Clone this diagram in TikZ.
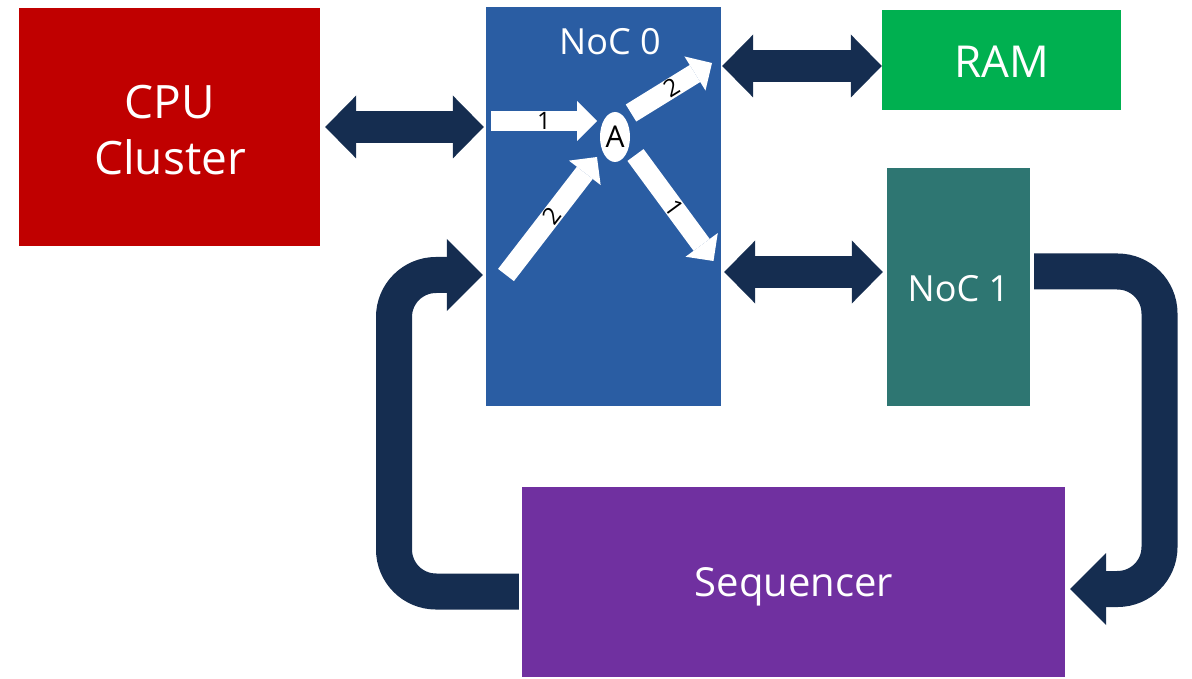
\documentclass[tikz,border=0pt]{standalone}
\usepackage{fontspec}
\setmainfont{Open Sans}
\usetikzlibrary{arrows.meta,calc,shapes.geometric}

\definecolor{cpured}{HTML}{C00000}
\definecolor{nocblue}{HTML}{2A5DA3}
\definecolor{ramgreen}{HTML}{00B050}
\definecolor{nocteal}{HTML}{2E7672}
\definecolor{seqpurple}{HTML}{7030A0}
\definecolor{navy}{HTML}{152D50}

\tikzset{
  unit/.style={draw=none, inner sep=0pt, text=white, align=center},
  caption/.style={text=white, align=center, inner sep=0pt},
  dblarrow/.style={draw=navy, line width=32pt,
    {Triangle[length=31pt 0 0, width=63pt 0 0, line width=0pt 0 0]}-{Triangle[length=31pt 0 0, width=63pt 0 0, line width=0pt 0 0]}},
  looparrow/.style={draw=navy, line width=36pt, rounded corners=42pt,
    -{Triangle[length=36pt 0 0, width=72pt 0 0, line width=0pt 0 0]}},
  flow/.style={draw=white, line width=20pt,
    -{Triangle[length=20pt 0 0, width=40pt 0 0, line width=0pt 0 0]}},
  flowlabel/.style={midway, sloped, inner sep=0pt, text=black, font=\fontsize{24}{24}\selectfont},
}

\begin{document}
\begin{tikzpicture}[x=1pt, y=-1pt]
  \useasboundingbox (0,0) rectangle (1192,679);

  % functional units
  \node[unit, fill=cpured, minimum width=301pt, minimum height=238pt] (cpu) at (169.5,127) {};
  \node[caption, font=\fontsize{46}{56}\selectfont] (cputext) at (170,130) {CPU\\Cluster};
  \node[unit, fill=nocblue, minimum width=235pt, minimum height=399pt] (noc0) at (603.5,206.5) {};
  \node[caption, font=\fontsize{36}{36}\selectfont] (noc0title) at (610,42) {NoC 0};
  \node[unit, fill=ramgreen, minimum width=239pt, minimum height=100pt] (ram) at (1001.5,60) {};
  \node[caption, font=\fontsize{44}{44}\selectfont] (ramtext) at (1001.5,62) {RAM};
  \node[unit, fill=nocteal, minimum width=143pt, minimum height=238pt] (noc1) at (958.5,287) {};
  \node[caption, font=\fontsize{36}{36}\selectfont] (noc1text) at (958.5,289) {NoC 1};
  \node[unit, fill=seqpurple, minimum width=543pt, minimum height=190pt] (seq) at (793.5,582) {};
  \node[caption, font=\fontsize{40}{40}\selectfont] (seqtext) at (794,587) {Sequencer};

  % arbiter inside NoC 0
  \node[ellipse, fill=white, minimum width=30pt, minimum height=50pt, inner sep=0pt,
        font=\fontsize{30}{30}\selectfont] (arb) at (615,137) {A};

  % ports of the internal flows
  \coordinate (in1s) at (491,121);  \coordinate (in1e) at (597,121);
  \coordinate (in2s) at (506,275);  \coordinate (in2e) at (597,157);
  \coordinate (out2s) at (631,113); \coordinate (out2e) at (712,63);
  \coordinate (out1s) at (635.5,155); \coordinate (out1e) at (713.5,261);

  \draw[flow] (in1s) -- (in1e) node[flowlabel] {1};
  \draw[flow] (in2s) -- (in2e) node[flowlabel] {2};
  \draw[flow] (out2s) -- (out2e) node[flowlabel] {2};
  \draw[flow] (out1s) -- (out1e) node[flowlabel] {1};

  % bidirectional links
  \draw[dblarrow] ($(cpu.east)+(5,0)$) -- ($(cpu.east -| noc0.west)+(-2,0)$);
  \draw[dblarrow] ($(noc0.east |- ram.west)+(1,6)$) -- ($(ram.west)+(0,6)$);
  \draw[dblarrow] ($(noc1.west)+(-4,-15)$) -- ($(noc0.east |- noc1.west)+(3,-15)$);

  % feedback loops
  \draw[looparrow] ($(noc1.east)+(4,-15.5)$) -- (1159.5,271.5) -- (1159.5,589) -- ($(seq.east)+(5,7)$);
  \draw[looparrow] ($(seq.west)+(-3,9.5)$) -- (394,591.5) -- (394,275) -- ($(noc0.west |- 0,275)+(-3,0)$);
\end{tikzpicture}
\end{document}
